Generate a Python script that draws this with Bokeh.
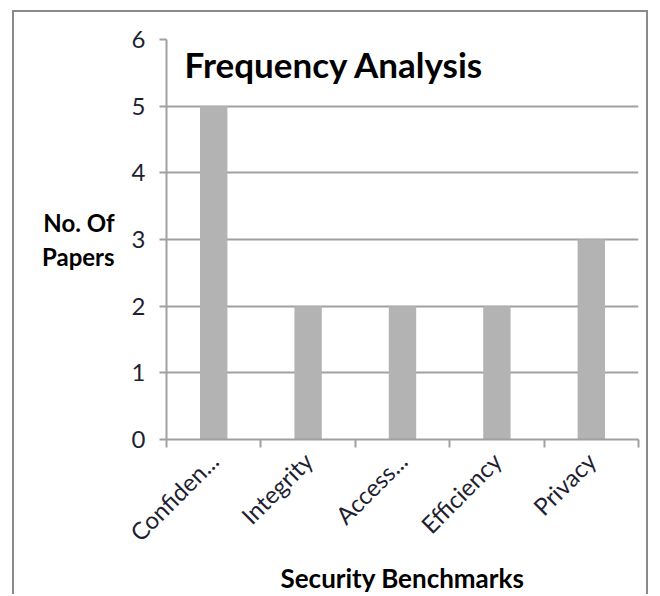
from bokeh.plotting import figure
from bokeh.models import LinearAxis, FixedTicker, Label, Range1d
from bokeh.embed import file_html
from bokeh.resources import INLINE

categories = ["Confiden...", "Integrity", "Access...", "Efficiency", "Privacy"]
papers = [5, 2, 2, 2, 3]
y_ticks = [0, 1, 2, 3, 4, 5, 6]

FONT = "Lato"
GRAY = "#a0a0a0"
TXT = "#1f1f33"

n = len(categories)
xs = [i + 0.5 for i in range(n)]
bounds = list(range(n + 1))

p = figure(width=636, height=584, output_backend="svg", toolbar_location=None,
           x_range=Range1d(0, n), y_range=Range1d(0, 6),
           x_axis_location=None, y_axis_location=None,
           min_border_left=152, min_border_right=12, min_border_top=27, min_border_bottom=150)
p.outline_line_color = None
p.background_fill_color = "white"
p.border_fill_color = "white"
p.styles = {"border-left": "2px solid #8a8a8a", "border-top": "2px solid #8a8a8a",
            "border-right": "2px solid #8a8a8a", "margin-left": "12px", "margin-top": "10px"}

p.vbar(x=xs, top=papers, width=0.29, color="#b3b3b3", line_color=None)

# y axis
yax = LinearAxis(ticker=FixedTicker(ticks=y_ticks))
yax.axis_line_color = GRAY
yax.axis_line_width = 2
yax.major_tick_line_color = GRAY
yax.major_tick_line_width = 2
yax.major_tick_out = 7
yax.major_tick_in = 0
yax.minor_tick_line_color = None
yax.major_label_text_font = FONT
yax.major_label_text_font_size = "24px"
yax.major_label_text_color = TXT
yax.major_label_standoff = 14
yax.axis_label = "No. Of\nPapers"
yax.axis_label_text_font = FONT
yax.axis_label_text_font_style = "bold"
yax.axis_label_text_font_size = "24px"
yax.axis_label_text_color = "black"
yax.axis_label_standoff = 14
try:
    yax.axis_label_orientation = "horizontal"
except Exception:
    pass
p.add_layout(yax, "left")

# x axis: labels at category centres, tick marks at category boundaries (minor ticks)
xl = LinearAxis(ticker=FixedTicker(ticks=xs, minor_ticks=bounds))
xl.major_label_overrides = {x: c for x, c in zip(xs, categories)}
xl.axis_line_color = GRAY
xl.axis_line_width = 2
xl.major_tick_line_color = None
xl.major_tick_out = 0
xl.major_tick_in = 0
xl.minor_tick_line_color = GRAY
xl.minor_tick_line_width = 2
xl.minor_tick_out = 8
xl.minor_tick_in = 0
xl.major_label_orientation = 0.785398
xl.major_label_text_font = FONT
xl.major_label_text_font_size = "24px"
xl.major_label_text_color = TXT
xl.major_label_standoff = 9
xl.axis_label = "Security Benchmarks"
xl.axis_label_text_font = FONT
xl.axis_label_text_font_style = "bold"
xl.axis_label_text_font_size = "26px"
xl.axis_label_text_color = "black"
xl.axis_label_standoff = 2
p.add_layout(xl, "below")

p.xgrid.visible = False
p.ygrid.ticker = FixedTicker(ticks=y_ticks)
p.ygrid.grid_line_color = GRAY
p.ygrid.grid_line_width = 2

p.add_layout(Label(x=18, y=376, x_units="screen", y_units="screen",
                   text="Frequency Analysis", text_font=FONT, text_font_style="bold",
                   text_font_size="35px", text_color="black", text_baseline="alphabetic"))

open("out.html", "w").write(file_html(p, INLINE))
